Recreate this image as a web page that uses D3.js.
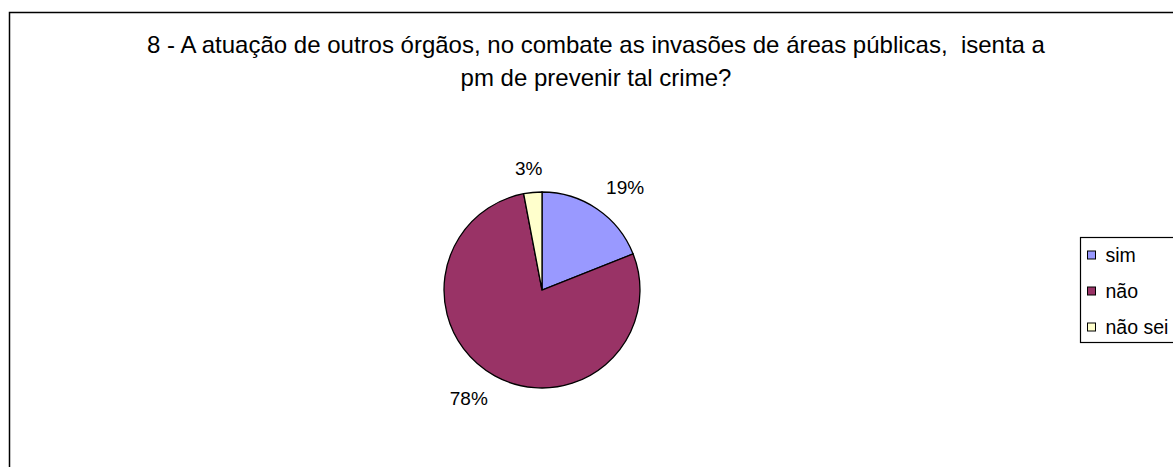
<!DOCTYPE html>
<html>
<head>
<meta charset="utf-8">
<script src="https://cdn.jsdelivr.net/npm/d3@7"></script>
<style>
    body { margin: 0; background: #fff; }
    svg { display: block; font-family: "Liberation Sans", Arial, sans-serif; }
</style>
</head>
<body>
<svg id="drawing_region"></svg>
<script>
const categories = ["sim", "não", "não sei"];
const values = [19, 78, 3];
const colors = ["#9999ff", "#993366", "#ffffcc"];
const titleLines = [
    "8 - A atuação de outros órgãos, no combate as invasões de áreas públicas,  isenta a",
    "pm de prevenir tal crime?"
];

const config = {
    width: 1173,
    height: 467,
    cx: 542,
    cy: 290,
    radius: 98
};

const svg = d3.select("#drawing_region")
    .attr("width", config.width)
    .attr("height", config.height);

// outer chart frame (runs off the right and bottom edges)
svg.append("rect")
    .attr("x", 9.5)
    .attr("y", 12.5)
    .attr("width", 1200)
    .attr("height", 500)
    .attr("fill", "#fff")
    .attr("stroke", "#000")
    .attr("stroke-width", 1.5);

// title
svg.append("text")
    .attr("text-anchor", "middle")
    .attr("font-size", 24)
    .attr("fill", "#000")
    .style("white-space", "pre")
    .selectAll("tspan")
    .data(titleLines)
    .enter()
    .append("tspan")
    .attr("x", 596)
    .attr("y", (d, i) => 53 + i * 33)
    .text(d => d);

const data = categories.map((c, i) => ({ name: c, value: values[i], color: colors[i] }));

const pie = d3.pie()
    .value(d => d.value)
    .sort(null);

const arc = d3.arc()
    .innerRadius(0)
    .outerRadius(config.radius);

const chart = svg.append("g")
    .attr("transform", `translate(${config.cx},${config.cy})`);

const arcs = pie(data);

chart.selectAll("path")
    .data(arcs)
    .enter()
    .append("path")
    .attr("d", arc)
    .attr("fill", d => d.data.color)
    .attr("stroke", "#000")
    .attr("stroke-width", 1.3);

// labels sit just outside the rim, pushed away by their own box size
const gap = 16;
const clamp = v => Math.max(-1, Math.min(1, v));

chart.selectAll("text")
    .data(arcs)
    .enter()
    .append("text")
    .attr("text-anchor", "middle")
    .attr("dy", "0.35em")
    .attr("font-size", 19)
    .attr("fill", "#000")
    .text(d => d.data.value + "%")
    .each(function(d) {
        const a = (d.startAngle + d.endAngle) / 2;
        const w = this.getComputedTextLength();
        const s = Math.sin(a), c = Math.cos(a);
        const x = (config.radius + gap) * s + clamp(s * 2) * w / 2;
        const y = -(config.radius + gap) * c - clamp(c * 2) * 8;
        d3.select(this).attr("x", x).attr("y", y);
    });

// legend
const legend = svg.append("g")
    .attr("transform", "translate(1080.5,237.5)");

legend.append("rect")
    .attr("width", 120)
    .attr("height", 105)
    .attr("fill", "#fff")
    .attr("stroke", "#000")
    .attr("stroke-width", 1.2);

const items = legend.selectAll("g.item")
    .data(data)
    .enter()
    .append("g")
    .attr("class", "item")
    .attr("transform", (d, i) => `translate(0,${18 + i * 36})`);

items.append("rect")
    .attr("x", 7)
    .attr("y", -4.5)
    .attr("width", 8)
    .attr("height", 8)
    .attr("fill", d => d.color)
    .attr("stroke", "#000")
    .attr("stroke-width", 1);

items.append("text")
    .attr("x", 25)
    .attr("dy", "0.35em")
    .attr("font-size", 19.5)
    .attr("fill", "#000")
    .text(d => d.name);
</script>
</body>
</html>
